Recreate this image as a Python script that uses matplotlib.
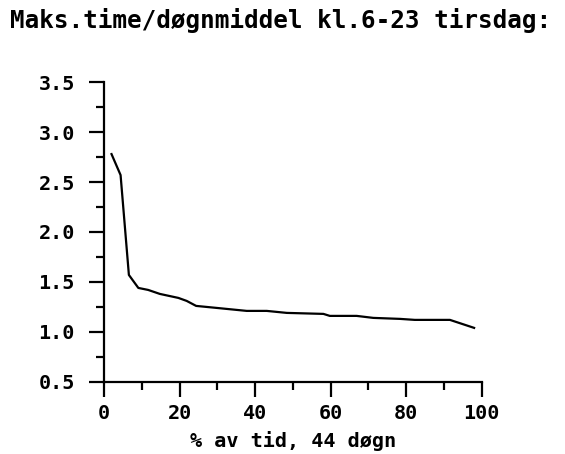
import matplotlib
matplotlib.use("Agg")
import matplotlib.pyplot as plt
from matplotlib.ticker import MultipleLocator

# duration curve, 44 days
pct_time = [2.0, 4.4, 6.6, 9.1, 11.7, 14.8, 19.7, 21.9, 24.4, 29.8, 37.8,
            43.1, 48.4, 58.1, 59.8, 66.9, 71.3, 78.4, 82.3, 91.6, 98.0]
ratio = [2.78, 2.57, 1.57, 1.44, 1.42, 1.38, 1.34, 1.31, 1.26, 1.24, 1.21,
         1.21, 1.19, 1.18, 1.16, 1.16, 1.14, 1.13, 1.12, 1.12, 1.04]

title = "Maks.time/døgnmiddel kl.6-23 tirsdag:"
xlabel = "% av tid, 44 døgn"

plt.rcParams['font.family'] = 'DejaVu Sans Mono'
plt.rcParams['font.weight'] = 'bold'

fig = plt.figure(figsize=(5.65, 4.54), dpi=100)
ax = fig.add_axes([0.184, 0.159, 0.6685, 0.660])

ax.plot(pct_time, ratio, color='black', lw=1.6)

ax.set_xlim(0, 100)
ax.set_ylim(0.5, 3.5)
ax.xaxis.set_major_locator(MultipleLocator(20))
ax.xaxis.set_minor_locator(MultipleLocator(10))
ax.yaxis.set_major_locator(MultipleLocator(0.5))
ax.yaxis.set_minor_locator(MultipleLocator(0.25))
ax.yaxis.set_major_formatter(lambda v, p: f"{v:.1f}")

for s in ['top', 'right']:
    ax.spines[s].set_visible(False)
for s in ['left', 'bottom']:
    ax.spines[s].set_linewidth(1.6)

ax.tick_params(which='major', length=11, width=1.6, labelsize=14.5)
ax.tick_params(axis='x', which='major', pad=5)
ax.tick_params(axis='y', which='major', pad=10)
ax.tick_params(which='minor', length=6, width=1.6)

ax.set_xlabel(xlabel, fontsize=14.5, fontweight='bold', labelpad=6)
fig.text(0.018, 0.938, title, fontsize=17.5, fontweight='bold',
         ha='left', va='baseline')

fig.savefig("out.png", dpi=100)
